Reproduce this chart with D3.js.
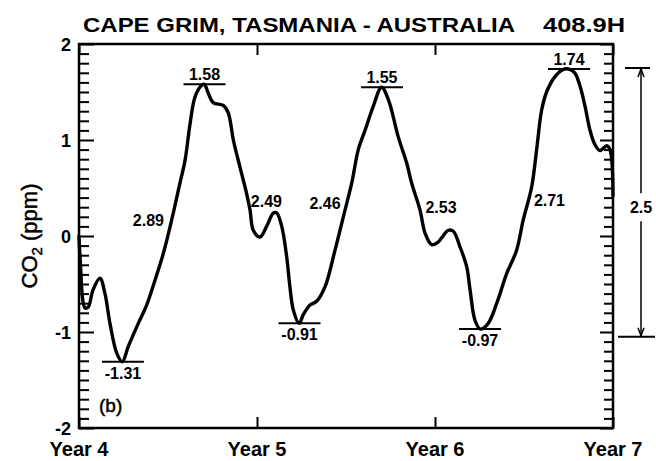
<!DOCTYPE html>
<html>
<head>
<meta charset="utf-8">
<script src="https://cdn.jsdelivr.net/npm/d3@7"></script>
<style>
  html, body { margin: 0; padding: 0; background: #fff; }
  svg { display: block; }
  text { font-family: "Liberation Sans", Arial, Helvetica, sans-serif; fill: #000; }
</style>
</head>
<body>
<svg id="chart" width="656" height="461"></svg>
<script>
// Detrended CO2 seasonal cycle, Cape Grim (years 4 to 7)
const time = [
  4.000, 4.006, 4.034, 4.052, 4.079, 4.118, 4.146, 4.174, 4.212, 4.243,
  4.277, 4.333, 4.380, 4.427, 4.474, 4.521, 4.567, 4.596, 4.624, 4.652,
  4.689, 4.704, 4.726, 4.754, 4.811, 4.839, 4.867, 4.904, 4.942, 4.961,
  4.979, 5.017, 5.054, 5.092, 5.111, 5.139, 5.167, 5.185, 5.204, 5.237,
  5.260, 5.298, 5.335, 5.382, 5.438, 5.485, 5.532, 5.569, 5.607, 5.653,
  5.700, 5.738, 5.794, 5.841, 5.869, 5.916, 5.944, 5.981, 6.019, 6.037,
  6.075, 6.103, 6.140, 6.178, 6.197, 6.225, 6.255, 6.299, 6.347, 6.403,
  6.458, 6.496, 6.543, 6.571, 6.599, 6.627, 6.674, 6.715, 6.750, 6.785,
  6.815, 6.843, 6.871, 6.899, 6.927, 6.965, 6.983, 7.000
];
const co2 = [
   0.00, -0.22, -0.75, -0.74, -0.56, -0.44, -0.60, -0.91, -1.22, -1.31,
  -1.15, -0.91, -0.72, -0.46, -0.18,  0.17,  0.55,  0.79,  1.17,  1.45,
   1.57,  1.58,  1.49,  1.39,  1.36,  1.28,  1.00,  0.72,  0.44,  0.27,
   0.06, -0.01,  0.10,  0.24,  0.24,  0.10, -0.22, -0.53, -0.77, -0.91,
  -0.82, -0.72, -0.68, -0.53, -0.15,  0.20,  0.55,  0.90,  1.10,  1.35,
   1.55,  1.42,  1.03,  0.76,  0.55,  0.27,  0.03, -0.09, -0.06, -0.02,
   0.06,  0.05, -0.11, -0.32, -0.56, -0.88, -0.97, -0.91, -0.70, -0.39,
  -0.15,  0.17,  0.51,  0.90,  1.31,  1.50,  1.66,  1.73,  1.74,  1.70,
   1.56,  1.35,  1.10,  0.95,  0.89,  0.94,  0.90,  0.42
];

// Year ticks on the time axis
const yearTicks = [4, 5, 6, 7];
const yearLabels = ["Year 4", "Year 5", "Year 6", "Year 7"];
// CO2 axis ticks
const co2Ticks = [-2, -1, 0, 1, 2];
const co2TickLabels = ["-2", "-1", "0", "1", "2"];
const co2MinorTicks = d3.range(-20, 21).map(d => d / 10);

// Seasonal maxima and minima
const extremaTime = [4.705, 5.702, 6.753, 4.247, 5.239, 6.253];
const extremaValue = [1.58, 1.55, 1.74, -1.31, -0.91, -0.97];
const extremaLabels = ["1.58", "1.55", "1.74", "-1.31", "-0.91", "-0.97"];

// Peak-to-trough amplitudes written beside each limb
const ampTime = [4.390, 5.053, 5.382, 6.034, 6.643];
const ampValue = [0.17, 0.36, 0.34, 0.30, 0.375];
const ampLabels = ["2.89", "2.49", "2.46", "2.53", "2.71"];

// Mean amplitude bar on the right
const rangeTop = 1.75;
const rangeBottom = -1.05;
const rangeLabel = "2.5";

const title = "CAPE GRIM, TASMANIA - AUSTRALIA";
const stationCode = "408.9H";
const panelLabel = "(b)";

const svg = d3.select("#chart");
const plotLeft = 79, plotRight = 613, plotTop = 44, plotBottom = 428;

const x = d3.scaleLinear().domain([4, 7]).range([plotLeft, plotRight]);
const y = d3.scaleLinear().domain([-2, 2]).range([plotBottom, plotTop]);

// Title line
svg.append("text").attr("x", 83).attr("y", 32).style("font-weight", "bold")
  .attr("font-size", 21).attr("textLength", 432).attr("lengthAdjust", "spacingAndGlyphs")
  .text(title);
svg.append("text").attr("x", 625).attr("y", 32).attr("text-anchor", "end").style("font-weight", "bold")
  .attr("font-size", 21).attr("textLength", 82).attr("lengthAdjust", "spacingAndGlyphs")
  .text(stationCode);

// Axes: minor ticks every 0.1, major at each integer
function styleAxis(g) {
  g.select(".domain").remove();
  g.selectAll("line").attr("stroke", "#000").attr("stroke-width", 2);
}
const minorOnly = co2MinorTicks.filter(d => Math.abs(d - Math.round(d)) > 1e-6);

svg.append("g").attr("transform", `translate(${plotLeft},0)`)
  .call(d3.axisLeft(y).tickValues(minorOnly).tickSize(-10).tickFormat(""))
  .call(styleAxis);
svg.append("g").attr("transform", `translate(${plotLeft},0)`)
  .call(d3.axisLeft(y).tickValues(co2Ticks).tickSize(-15)
    .tickFormat((d, i) => co2TickLabels[i]))
  .call(styleAxis)
  .call(g => g.selectAll("text").attr("font-size", 18).attr("x", -8).attr("dy", "0.36em")
    .attr("font-family", null).style("font-weight", "bold"));

svg.append("g").attr("transform", `translate(${plotRight},0)`)
  .call(d3.axisRight(y).tickValues(minorOnly).tickSize(-9).tickFormat(""))
  .call(styleAxis);
svg.append("g").attr("transform", `translate(${plotRight},0)`)
  .call(d3.axisRight(y).tickValues(co2Ticks).tickSize(-13).tickFormat(""))
  .call(styleAxis);

svg.append("g").attr("transform", `translate(0,${plotBottom})`)
  .call(d3.axisBottom(x).tickValues(yearTicks).tickSize(-11).tickFormat(""))
  .call(styleAxis);
svg.append("g").attr("transform", `translate(0,${plotTop})`)
  .call(d3.axisTop(x).tickValues(yearTicks).tickSize(-11).tickFormat(""))
  .call(styleAxis);

// Year labels under the axis
svg.append("g").selectAll("text").data(yearTicks).join("text")
  .attr("x", d => x(d)).attr("y", 456).attr("text-anchor", "middle").style("font-weight", "bold")
  .attr("font-size", 20).text((d, i) => yearLabels[i]);

// Frame
svg.append("rect").attr("x", plotLeft).attr("y", plotTop)
  .attr("width", plotRight - plotLeft).attr("height", plotBottom - plotTop)
  .attr("fill", "none").attr("stroke", "#000").attr("stroke-width", 2.5);

// Y-axis title with subscript (medium weight via a thin outline)
const yt = svg.append("text").attr("transform", `translate(37,236) rotate(-90)`)
  .attr("text-anchor", "middle").attr("font-size", 22).style("font-weight", "normal")
  .attr("stroke", "#000").attr("stroke-width", 0.5);
yt.append("tspan").text("CO");
yt.append("tspan").attr("font-size", 15).attr("dy", 5).text("2");
yt.append("tspan").attr("dy", -5).text(" (ppm)");

// CO2 curve
const pts = time.map((t, i) => [t, co2[i]]);
svg.append("path").datum(pts)
  .attr("fill", "none").attr("stroke", "#000").attr("stroke-width", 3.4)
  .attr("stroke-linejoin", "round").attr("stroke-linecap", "round")
  .attr("d", d3.line().x(d => x(d[0])).y(d => y(d[1])).curve(d3.curveCatmullRom.alpha(0.5)));

// Extremum bars and their values
const ext = svg.append("g");
extremaTime.forEach((t, i) => {
  const v = extremaValue[i];
  ext.append("line").attr("x1", x(t) - 21).attr("x2", x(t) + 21)
    .attr("y1", y(v)).attr("y2", y(v)).attr("stroke", "#000").attr("stroke-width", 2);
  ext.append("text").attr("x", x(t)).attr("text-anchor", "middle").attr("font-size", 16)
    .style("font-weight", "bold")
    .attr("y", v > 0 ? y(v) - 4 : y(v) + 17).text(extremaLabels[i]);
});

// Amplitude labels
svg.append("g").selectAll("text").data(ampTime).join("text")
  .attr("x", d => x(d)).attr("y", (d, i) => y(ampValue[i]) + 6)
  .attr("text-anchor", "middle").attr("font-size", 16).style("font-weight", "bold")
  .text((d, i) => ampLabels[i]);

// Panel tag
svg.append("text").attr("x", 99).attr("y", y(-1.76) + 7).attr("font-size", 19)
  .style("font-weight", "normal").attr("stroke", "#000").attr("stroke-width", 0.5)
  .text(panelLabel);

// Amplitude scale bar with arrows on the right
const ax = 641, ly = y(0.30);
const rg = svg.append("g").attr("stroke", "#000").attr("fill", "none");
rg.append("line").attr("x1", 625).attr("x2", 650).attr("y1", y(rangeTop)).attr("y2", y(rangeTop)).attr("stroke-width", 2);
rg.append("line").attr("x1", 618).attr("x2", 655).attr("y1", y(rangeBottom)).attr("y2", y(rangeBottom)).attr("stroke-width", 2);
rg.append("line").attr("x1", ax).attr("x2", ax).attr("y1", y(rangeTop) + 1).attr("y2", ly - 14).attr("stroke-width", 1.5);
rg.append("line").attr("x1", ax).attr("x2", ax).attr("y1", ly + 14).attr("y2", y(rangeBottom) - 1).attr("stroke-width", 1.5);
rg.append("path").attr("d", `M${ax - 3},${y(rangeTop) + 9} L${ax},${y(rangeTop) + 1} L${ax + 3},${y(rangeTop) + 9}`).attr("stroke-width", 1.5);
rg.append("path").attr("d", `M${ax - 3},${y(rangeBottom) - 9} L${ax},${y(rangeBottom) - 1} L${ax + 3},${y(rangeBottom) - 9}`).attr("stroke-width", 1.5);
svg.append("text").attr("x", ax).attr("y", ly + 6).attr("text-anchor", "middle")
  .attr("font-size", 16).style("font-weight", "bold").text(rangeLabel);
</script>
</body>
</html>
